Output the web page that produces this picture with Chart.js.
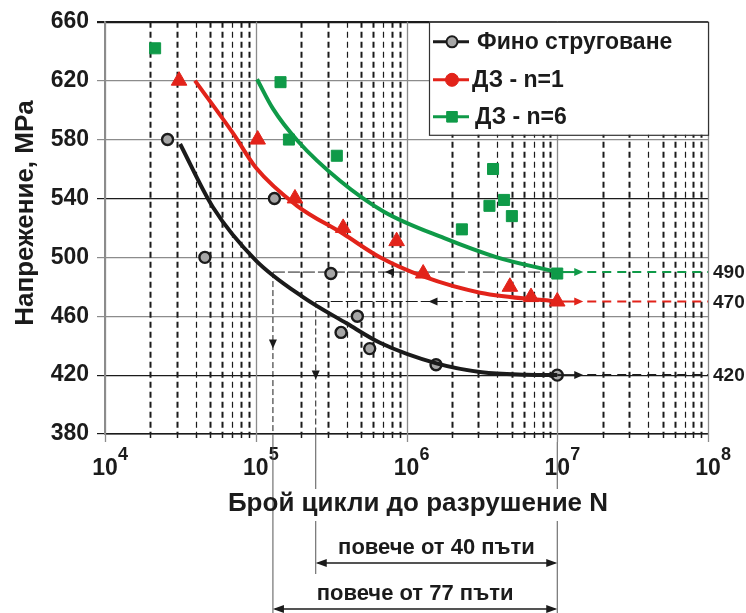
<!DOCTYPE html>
<html>
<head>
<meta charset="utf-8">
<script src="https://cdn.jsdelivr.net/npm/chart.js@4.4.1/dist/chart.umd.min.js"></script>
<style>
  body { margin: 0; background: #fff; }
  #wrap { width: 746px; height: 613px; }
</style>
</head>
<body>
<div id="wrap"><canvas id="sn" width="746" height="613"></canvas></div>
<script>
// measured points (N cycles, stress MPa)
const fineN = [2.6e4, 4.6e4, 1.33e5, 3.15e5, 3.68e5, 4.72e5, 5.7e5, 1.57e6, 1.0e7];
const fineS = [580, 500, 540, 489, 449, 460, 438, 427, 420];
const dz1N = [3.1e4, 1.03e5, 1.82e5, 3.8e5, 8.6e5, 1.29e6, 4.85e6, 6.7e6, 1.0e7];
const dz1S = [620, 580, 540, 520, 511, 489, 480, 473, 470];
const dz6N = [2.15e4, 1.46e5, 1.66e5, 3.45e5, 2.33e6, 3.55e6, 3.75e6, 4.44e6, 5.0e6, 1.0e7];
const dz6S = [642, 619, 580, 569, 519, 535, 560, 539, 528, 489];

// trend curves
const fineCurveN = [3.15e4, 5.2e4, 1.0e5, 2.06e5, 4.03e5, 6.67e5, 1.58e6, 3.16e6, 6.3e6, 1.0e7];
const fineCurveS = [577, 534, 498, 473, 455, 442, 428, 422, 420.3, 420];
const dz1CurveN = [3.95e4, 7.1e4, 1.0e5, 1.88e5, 3.8e5, 6.67e5, 1.29e6, 3.08e6, 1.0e7];
const dz1CurveS = [620, 584, 561, 535, 516, 500, 487, 476, 470];
const dz6CurveN = [1.02e5, 1.3e5, 1.9e5, 3.62e5, 7.08e5, 1.78e6, 3.98e6, 1.0e7];
const dz6CurveS = [621, 601, 579, 552, 531, 513, 500, 490];

const seriesNames = ["Фино струговане", "ДЗ - n=1", "ДЗ - n=6"];
const yTicks = [380, 420, 460, 500, 540, 580, 620, 660];
const decades = [4, 5, 6, 7, 8];

// endurance levels and guide lines
const limitN = 1e7;
const limitS = [420, 470, 490];
const guideLevels = [490, 470];
const guideFineN = [1.3e5, 2.5e5];
const guideArrowN = [7.2e5, 1.4e6];
const guideArrowS = [438, 417];
const ratioText = ["повече от 77 пъти", "повече от 40 пъти"];

const black = "#1b1b1b";
const red = "#e2231a";
const green = "#0f9a48";
const FF = '"Liberation Sans", Arial, sans-serif';

function toXY(xs, ys) {
  return xs.map((v, i) => ({ x: v, y: ys[i] }));
}

function head(ctx, x, y, dx, dy, len, w) {
  // filled arrow head with tip at x,y
  ctx.beginPath();
  ctx.moveTo(x, y);
  ctx.lineTo(x - dx * len - dy * w, y - dy * len + dx * w);
  ctx.lineTo(x - dx * len + dy * w, y - dy * len - dx * w);
  ctx.closePath();
  ctx.fill();
}

function line(ctx, x1, y1, x2, y2, color, width, dash) {
  ctx.save();
  ctx.strokeStyle = color;
  ctx.lineWidth = width;
  ctx.setLineDash(dash || []);
  ctx.beginPath();
  ctx.moveTo(x1, y1);
  ctx.lineTo(x2, y2);
  ctx.stroke();
  ctx.restore();
}

const extras = {
  id: "extras",
  beforeDatasetsDraw(chart) {
    const { ctx, chartArea: a, scales: { x, y } } = chart;
    // log grid
    decades.forEach(e => {
      for (let m = 1; m <= 9; m++) {
        if (e === 8 && m > 1) break;
        const px = Math.round(x.getPixelForValue(m * Math.pow(10, e))) + 0.5;
        if (m === 1) {
          line(ctx, px, a.top, px, a.bottom + 8, "#8c8c8c", 1.3);
        } else {
          line(ctx, px, a.top, px, a.bottom, black, (m % 3 === 1) ? 1.2 : 2, [6, 4]);
          line(ctx, px, a.bottom, px, a.bottom + 4, black, 1.5);
        }
      }
    });
    // guide lines from fine turned curve to the limit
    ctx.fillStyle = black;
    guideLevels.forEach((lv, i) => {
      const py = y.getPixelForValue(lv);
      const x0 = x.getPixelForValue(guideFineN[i]);
      const x1 = x.getPixelForValue(limitN);
      line(ctx, x0, py, x1 + 14, py, black, 1, [12, 3]);
      head(ctx, x.getPixelForValue(guideArrowN[i]), py, -1, 0, 9, 4);
      line(ctx, x0, py, x0, a.bottom, black, 1, [6, 3]);
      head(ctx, x0, y.getPixelForValue(guideArrowS[i]), 0, 1, 9, 4);
    });
  },
  afterDatasetsDraw(chart) {
    const { ctx, chartArea: a, scales: { x, y } } = chart;
    const xl = x.getPixelForValue(limitN);

    // extension of the endurance limits
    [black, red, green].forEach((c, i) => {
      const py = y.getPixelForValue(limitS[i]);
      ctx.fillStyle = c;
      line(ctx, xl, py, xl + 20, py, c, 2);
      head(ctx, xl + 26, py, 1, 0, 9, 4);
      line(ctx, xl + 30, py, a.right, py, c, 2, [9, 6]);
    });

    ctx.save();
    ctx.fillStyle = black;
    ctx.font = "bold 19px " + FF;
    ctx.textAlign = "left";
    ctx.textBaseline = "middle";
    [490, 470, 420].forEach(v => ctx.fillText(String(v), a.right + 5, y.getPixelForValue(v) + 1));
    ctx.restore();

    // legend
    const lx = 429, ly = a.top, lw = a.right - lx, lh = 113;
    ctx.save();
    ctx.fillStyle = "#fff";
    ctx.fillRect(lx, ly, lw, lh);
    ctx.strokeStyle = "#333";
    ctx.lineWidth = 1.2;
    ctx.strokeRect(lx + 0.5, ly + 0.5, lw, lh);
    const rows = [
      { c: black, fill: "#a6a6a6", style: "circle", r: 5.5, y: ly + 20, tx: 48 },
      { c: red, fill: red, style: "circle", r: 6.5, y: ly + 58, tx: 43 },
      { c: green, fill: green, style: "rect", r: 7.5, y: ly + 95, tx: 46 }
    ];
    rows.forEach((r, i) => {
      line(ctx, lx + 4, r.y, lx + 40, r.y, r.c, 3);
      ctx.fillStyle = r.fill;
      ctx.strokeStyle = r.c;
      ctx.lineWidth = i === 0 ? 2 : 1;
      Chart.helpers.drawPoint(ctx, { pointStyle: r.style, radius: r.r, borderWidth: ctx.lineWidth }, lx + 23, r.y);
      ctx.fillStyle = black;
      ctx.font = "bold 23px " + FF;
      ctx.textBaseline = "middle";
      ctx.fillText(seriesNames[i], lx + r.tx, r.y + 1);
    });
    ctx.restore();

    // x tick labels 10^n
    ctx.save();
    ctx.fillStyle = black;
    decades.forEach(e => {
      const px = x.getPixelForValue(Math.pow(10, e));
      ctx.font = "bold 23px " + FF;
      ctx.textAlign = "center";
      ctx.textBaseline = "alphabetic";
      ctx.fillText("10", px, a.bottom + 41);
      ctx.font = "bold 18px " + FF;
      ctx.textAlign = "left";
      ctx.fillText(String(e), px + 13, a.bottom + 26);
    });
    ctx.restore();

    // lines down to the ratio arrows
    const xa = x.getPixelForValue(guideFineN[0]);
    const xb = x.getPixelForValue(guideFineN[1]);
    line(ctx, xa, a.bottom, xa, 613, "#555", 1);
    line(ctx, xb, a.bottom, xb, 489, "#555", 1);
    line(ctx, xb, 521, xb, 574, "#555", 1);
    line(ctx, xl, a.bottom + 8, xl, 489, "#555", 1);
    line(ctx, xl, 521, xl, 613, "#555", 1);

    // axis titles
    ctx.save();
    ctx.fillStyle = black;
    ctx.font = "bold 26px " + FF;
    ctx.textAlign = "center";
    ctx.textBaseline = "alphabetic";
    ctx.fillText("Брой цикли до разрушение N", 418, 511);
    ctx.translate(33, 213);
    ctx.rotate(-Math.PI / 2);
    ctx.fillText("Напрежение, MPa", 0, 0);
    ctx.restore();

    // ratio arrows
    ctx.save();
    ctx.fillStyle = black;
    [[xb, 563, ratioText[1], 554], [xa, 609, ratioText[0], 600]].forEach(r => {
      line(ctx, r[0] + 2, r[1], xl - 2, r[1], black, 1.5);
      head(ctx, r[0], r[1], -1, 0, 11, 4);
      head(ctx, xl, r[1], 1, 0, 11, 4);
      ctx.font = "bold 22px " + FF;
      ctx.textAlign = "center";
      ctx.fillText(r[2], (r[0] + xl) / 2, r[3]);
    });
    ctx.restore();
  }
};

const curveStyle = { showLine: true, pointRadius: 0, borderWidth: 4, cubicInterpolationMode: "monotone", fill: false };

new Chart(document.getElementById("sn"), {
  type: "scatter",
  data: {
    datasets: [
      Object.assign({ data: toXY(fineCurveN, fineCurveS), borderColor: black }, curveStyle),
      Object.assign({ data: toXY(dz1CurveN, dz1CurveS), borderColor: red }, curveStyle),
      Object.assign({ data: toXY(dz6CurveN, dz6CurveS), borderColor: green }, curveStyle),
      { label: seriesNames[0], data: toXY(fineN, fineS), pointStyle: "circle", pointRadius: 5.5,
        backgroundColor: "#a6a6a6", borderColor: black, borderWidth: 2.4 },
      { label: seriesNames[1], data: toXY(dz1N, dz1S), pointStyle: "triangle", pointRadius: 9,
        backgroundColor: red, borderColor: red, borderWidth: 1 },
      { label: seriesNames[2], data: toXY(dz6N, dz6S), pointStyle: "rect", pointRadius: 7.8,
        backgroundColor: green, borderColor: green, borderWidth: 1 }
    ]
  },
  options: {
    responsive: false,
    animation: false,
    devicePixelRatio: 1,
    layout: { padding: { top: 20, right: 38, left: 0, bottom: 0 } },
    plugins: { legend: { display: false }, tooltip: { enabled: false } },
    scales: {
      x: {
        type: "logarithmic",
        min: 1e4,
        max: 1e8,
        ticks: { display: false },
        grid: { display: false },
        border: { color: black, width: 1.5 },
        afterFit: s => { s.height = 179; }
      },
      y: {
        min: 380,
        max: 660,
        afterBuildTicks: s => { s.ticks = yTicks.map(v => ({ value: v })); },
        ticks: { color: black, font: { family: FF, size: 23, weight: "bold" }, padding: 8 },
        grid: {
          color: c => [380, 420, 540, 660].includes(c.tick.value) ? black : "#8c8c8c",
          lineWidth: c => c.tick.value === 660 ? 2.2 : 1.2,
          tickLength: 8
        },
        border: { color: "#8c8c8c", width: 1.2 },
        afterFit: s => { s.width = 105; }
      }
    }
  },
  plugins: [extras]
});
</script>
</body>
</html>
